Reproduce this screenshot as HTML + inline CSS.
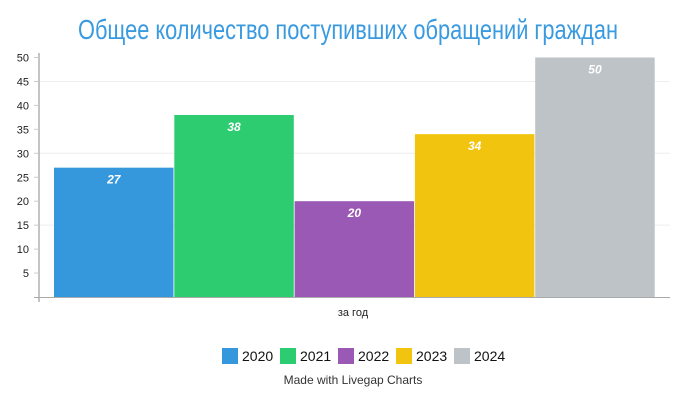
<!DOCTYPE html>
<html><head><meta charset="utf-8"><style>
body{margin:0;background:#fff;}
svg{display:block;font-family:"Liberation Sans Narrow","Liberation Sans",sans-serif;}
</style></head><body>
<svg id="chart" width="700" height="400">
<text x="348" y="39" text-anchor="middle" font-size="28" fill="#3a9ae0" textLength="540" lengthAdjust="spacingAndGlyphs">Общее количество поступивших обращений граждан</text>
<g id="grid"></g><g id="bars"></g><g id="axes"></g><g id="legend"></g>
<text x="353" y="316" text-anchor="middle" font-size="11" fill="#222">за год</text>
<text x="353" y="384" text-anchor="middle" font-size="12" fill="#333">Made with Livegap Charts</text>
</svg>
<script>
const categories=["2020","2021","2022","2023","2024"];
const values=[27,38,20,34,50];
const colors=["#3698dc","#2ecc71","#9b59b6","#f1c40f","#bdc3c7"];
const yTicks=[5,10,15,20,25,30,35,40,45,50];
const gridTicks=[15,30,45];
const NS="http://www.w3.org/2000/svg";
const y0=297, yTop=57.5, yMax=50;
const y=v=>y0-(v/yMax)*(y0-yTop);
const xL=54, bw=119.5, gap=0.8;
function mk(t,a,p){const e=document.createElementNS(NS,t);for(const k in a)e.setAttribute(k,a[k]);p.appendChild(e);return e;}
const grid=document.getElementById('grid'),bars=document.getElementById('bars'),axes=document.getElementById('axes'),leg=document.getElementById('legend');
gridTicks.forEach(v=>{const l=mk('line',{x1:39,x2:670,y1:y(v),y2:y(v),stroke:'#eeeeee','stroke-width':1},grid);

});
values.forEach((v,i)=>{const x=xL+i*(bw+gap);
const r=mk('rect',{x:x,y:y(v),width:bw,height:y0-y(v),fill:colors[i]},bars);


const t=mk('text',{x:x+bw/2,y:y(v)+16,'text-anchor':'middle','font-size':12,'font-style':'italic','font-weight':'bold',fill:'#fff'},bars);t.textContent=v;

});
const ya=mk('line',{x1:39,x2:39,y1:53,y2:302,stroke:'#888','stroke-width':1},axes);


const xa=mk('line',{x1:34,x2:670,y1:297.5,y2:297.5,stroke:'#aaa','stroke-width':1},axes);


yTicks.forEach(v=>{mk('line',{x1:34,x2:39,y1:y(v),y2:y(v),stroke:'#ccc'},axes);
const t=mk('text',{x:29,y:y(v)+4,'text-anchor':'end','font-size':11,fill:'#222'},axes);t.textContent=v;

});
categories.forEach((c,i)=>{const x=222+i*58;
const g=mk('g',{},leg);


mk('rect',{x:x,y:348,width:16,height:16,fill:colors[i]},g);
const t=mk('text',{x:x+20,y:361,'font-size':14,fill:'#111'},g);t.textContent=c;});
</script>
</body></html>
